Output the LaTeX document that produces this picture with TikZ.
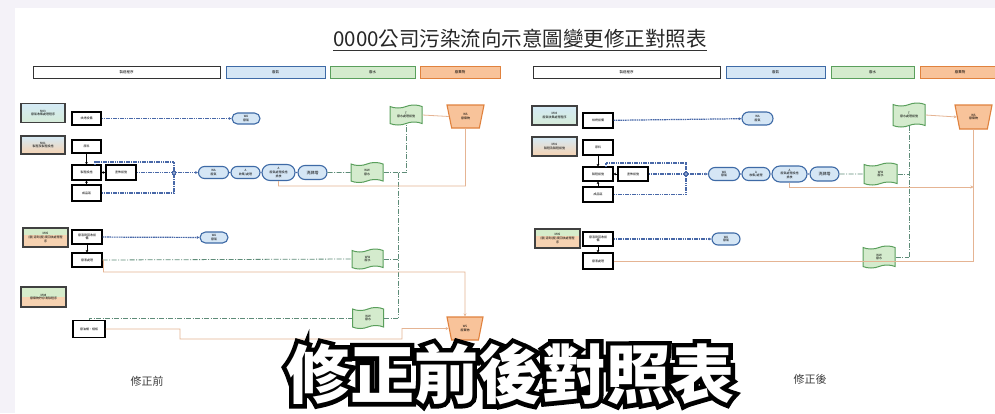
\documentclass[tikz,border=0pt]{standalone}
\usepackage{fontspec}
\setmainfont{Noto Sans CJK TC}
\newfontfamily\ovK{Noto Sans CJK TC}[BoldFeatures={FakeBold=14}]
\usetikzlibrary{shapes.misc,shapes.symbols,shapes.geometric,arrows.meta,calc}
\definecolor{gasC}{HTML}{4868A8}
\definecolor{pillF}{HTML}{D5E6F5}
\definecolor{pillD}{HTML}{3E6AA6}
\definecolor{wvF}{HTML}{D4EBCD}
\definecolor{wvD}{HTML}{5A9F5C}
\definecolor{wsF}{HTML}{F8C39A}
\definecolor{wsD}{HTML}{E0823E}
\definecolor{wasC}{HTML}{E5B493}
\definecolor{watC}{HTML}{5E8C78}
\definecolor{mG}{HTML}{D6ECCB}
\definecolor{mO}{HTML}{F6D2B1}
\definecolor{mB}{HTML}{D4EAF6}
\definecolor{bgC}{HTML}{F4F2F8}
\begin{document}
\begin{tikzpicture}[x=1pt,y=-1pt,
  tx/.style={font=\fontsize{3}{3.6}\selectfont, align=center, inner sep=0pt},
  procbox/.style={tx, draw=black, line width=1.1pt, fill=white, minimum width=30pt, minimum height=14pt},
  mbox/.style={tx, draw=black!75, line width=1.2pt, minimum width=45pt, minimum height=19pt},
  split/.style={path picture={
     \fill[mO] (path picture bounding box.south west) rectangle (path picture bounding box.north east);
     \fill[mG] (path picture bounding box.north west) rectangle ($(path picture bounding box.north east)!#1!(path picture bounding box.south east)$);}},
  mthree/.style={top color=mB, middle color=mG, bottom color=mO},
  mtwo/.style={top color=mB, bottom color=mG!70!mB},
  pill/.style={tx, rounded rectangle, draw=pillD, line width=1.1pt, fill=pillF, minimum height=12pt, minimum width=29pt},
  wave/.style={tx, tape, tape bend height=3pt, draw=wvD, line width=1pt, fill=wvF, minimum width=32pt, minimum height=20pt},
  wsbox/.style={tx, trapezium, shape border rotate=180, trapezium angle=76, trapezium stretches=true, draw=wsD, line width=1.1pt, fill=wsF, minimum width=37pt, minimum height=23pt},
  junc/.style={draw=gasC, fill=gasC!60, minimum size=3pt, inner sep=0pt},
  gas/.style={draw=gasC, line width=1.2pt, dash pattern=on 1.6pt off 0.7pt},
  gasar/.style={gas, -{Latex[length=2.5pt,width=3pt]}},
  water/.style={draw=watC, line width=0.8pt, dash pattern=on 5pt off 1.5pt on 1pt off 1.5pt},
  waste/.style={draw=wasC, line width=0.8pt},
  wastear/.style={waste, -{Stealth[length=3pt,width=3pt]}},
  flow/.style={draw=black, line width=0.9pt, -{Stealth[length=2.5pt,width=2.8pt]}},
  lg/.style={tx, font=\fontsize{3.5}{4}\selectfont, minimum height=12pt, line width=1pt}
]
\useasboundingbox (0,0) rectangle (995,413);
\fill[bgC] (0,0) rectangle (995,413);
\fill[white] (15,8) rectangle (995,413);

% title
\node[font=\fontsize{20.5}{24}\selectfont, inner sep=0pt, text=black!85] (title) at (520,39) {0000公司污染流向示意圖變更修正對照表};
\draw[line width=0.9pt, black!80] ([yshift=-2pt]title.south west) -- ([yshift=-2pt]title.south east);

% legends
\node[lg, draw=black!80, fill=white, minimum width=187pt] (lw1) at (126.5,72) {製造程序};
\node[lg, draw=pillD, fill=pillF, minimum width=99pt] (lb1) at (275.5,72) {廢氣};
\node[lg, draw=wvD, fill=wvF, minimum width=85pt] (lgn1) at (372.5,72) {廢水};
\node[lg, draw=wsD, fill=wsF, minimum width=80pt] (lo1) at (460,72) {廢棄物};
\node[lg, draw=black!80, fill=white, minimum width=187pt] (lw2) at (626.5,72) {製造程序};
\node[lg, draw=pillD, fill=pillF, minimum width=99pt] (lb2) at (775.5,72) {廢氣};
\node[lg, draw=wvD, fill=wvF, minimum width=83pt] (lgn2) at (872.5,72) {廢水};
\node[lg, draw=wsD, fill=wsF, minimum width=80pt] (lo2) at (960,72) {廢棄物};

% ================= LEFT (before) =================
\node[mbox, mtwo, minimum width=44pt] (m03) at (43,113) {M03\\廢氣收集處理程序};
\node[procbox, minimum width=29pt, minimum height=13pt] (heat) at (86.5,118.5) {烘烤設備};
\node[mbox, mthree, minimum width=44pt, minimum height=18pt] (m01) at (43,145) {M01\\製程及製程設施};
\node[procbox, minimum width=29pt, minimum height=13pt] (raw) at (86.5,146.5) {原料};
\node[procbox, minimum width=29pt, minimum height=15pt] (proc) at (86.5,172.5) {製程設施};
\node[procbox, minimum height=15pt] (proc2) at (121,172.5) {塗佈設施};
\node[procbox, minimum width=29pt, minimum height=16pt] (prod) at (86.5,193) {成品區};
\node[junc] (J) at (174,172.5) {};
\coordinate (c1) at (95,162);

\node[pill, minimum width=28pt, minimum height=11pt] (wa1) at (246,118.5) {WA\\廢氣};
\node[pill, minimum width=30pt] (wa2) at (213.5,172.5) {WA\\廢氣};
\node[pill] (a1) at (245.5,172.5) {A\\收集/處理};
\node[pill, minimum width=33pt, minimum height=16pt] (a2) at (278.5,172.5) {A\\廢氣處理設施\\排放};
\node[pill, minimum height=14pt, font=\fontsize{4}{4.8}\selectfont] (scr) at (312.5,172.5) {洗滌塔};
\node[wave] (ww1) at (367,172.5) {WW\\廢水};
\node[wave] (t1) at (406,115) {T\\廢水處理設施};
\node[wsbox] (ws1) at (465.5,116.5) {WS\\廢棄物};

\node[mbox, split=0.35] (m05) at (45.5,237.5) {M05\\(廢)溶劑(廢)液回收處理程\\序};
\node[procbox] (g1) at (87,237) {廢溶劑回收設\\備};
\node[procbox] (g2) at (87,260) {廢液處理};
\node[pill, minimum width=28pt, minimum height=11pt] (wa3) at (214,237.5) {WA\\廢氣};
\node[wave, minimum width=31pt] (ww2) at (367.5,259) {WW\\廢水};

\node[mbox, split=0.5, minimum height=20pt] (m08) at (43.5,297) {M08\\廢棄物貯存清除程序};
\node[procbox, minimum width=32pt, minimum height=17pt] (lbx) at (89,329) {廢油桶、棧板};
\node[wave, minimum width=31pt, minimum height=21pt] (ww3) at (368,318) {WW\\廢水};
\node[wsbox, minimum width=36pt] (ws2) at (465,328.5) {WS\\廢棄物};

% process arrows
\draw[flow] (raw) -- (proc);
\draw[flow] (prod) -- (proc);
\draw[flow] (proc2) -- (proc);
\draw[flow] (g1) -- (g2);
% gas
\draw[gasar] (heat) -- (wa1);
\draw[gas] (proc2) -- (J);
\draw[gasar] (J) -- (wa2);
\draw[gas] (prod.east) -| (J.south);
\draw[gas] (J.north) |- (c1) -- (c1 |- proc.north);
\draw[gas] (wa2) -- (a1);
\draw[gas] (a1) -- (a2);
\draw[gas] (a2) -- (scr);
\draw[gasar] (g1) -- (wa3);
% water
\coordinate (v1) at (406,172.5);
\coordinate (v2) at (398,172.5);
\coordinate (v2b) at (398,318);
\draw[water] (scr) -- (ww1);
\draw[water] (ww1.east) -- (v1) -- (t1.south);
\draw[water] (v2) -- (v2b);
\draw[water] (g2.east) -- (ww2.west);
\draw[water] (ww2.east) -- (ww2.east -| v2);
\draw[water] (lbx.north) |- (ww3.west);
\draw[water] (ww3.east) -- (v2b);
% waste
\coordinate (o1) at (465.5,186);
\coordinate (o2) at (465,272);
\draw[waste] (t1.east) -- (ws1.west);
\draw[waste] (a2.south) |- (o1) -- (ws1.south);
\draw[wastear] (g2.east) -- ++(1,0) |- (o2) -- (ws2.north);
\draw[wastear] (lbx.east) -- (180,329) -- (180,339) -- (402,339) -- (402,328.5) -- (ws2.west);

% ================= RIGHT (after) =================
\node[mbox, mtwo] (m03r) at (554.5,115.5) {M03\\廢氣收集處理程序};
\node[procbox, minimum height=15pt] (heatr) at (598,120.5) {烘烤設備};
\node[mbox, mthree] (m01r) at (554.5,146.5) {M01\\製程及製程設施};
\node[procbox, minimum height=15pt] (rawr) at (598,147.5) {原料};
\node[procbox] (procr) at (598,174) {製程設施};
\node[procbox] (proc2r) at (633,174) {塗佈設施};
\node[procbox, minimum height=15pt] (prodr) at (598,194.5) {成品區};
\node[junc] (Jr) at (686,174) {};
\coordinate (c1r) at (606,163);

\node[pill, minimum width=31pt, minimum height=13pt] (wa1r) at (757.5,118.5) {WA\\廢氣};
\node[pill, minimum width=31pt, minimum height=13pt] (wa2r) at (724,174) {WA\\廢氣};
\node[pill, minimum width=28pt, minimum height=13pt] (a1r) at (756,174) {A\\收集/處理};
\node[pill, minimum width=35pt, minimum height=16pt] (a2r) at (789.5,174) {A\\廢氣處理設施\\排放};
\node[pill, minimum height=14pt, font=\fontsize{4}{4.8}\selectfont] (scrr) at (824.5,174) {洗滌塔};
\node[wave, minimum width=33pt, minimum height=22pt] (ww1r) at (880.5,174) {WW\\廢水};
\node[wave, minimum height=24pt] (t1r) at (909,115) {T\\廢水處理設施};
\node[wsbox, minimum height=24pt] (wsr) at (973.5,117) {WS\\廢棄物};

\node[mbox, split=0.35] (m05r) at (557.5,238.5) {M05\\(廢)溶劑(廢)液回收處理程\\序};
\node[procbox] (g1r) at (598,239) {廢溶劑回收設\\備};
\node[procbox, minimum height=16pt] (g2r) at (598,261) {廢液處理};
\node[pill, minimum width=28pt, minimum height=12pt] (wa3r) at (726,239) {WA\\廢氣};
\node[wave, minimum height=22pt] (ww2r) at (879,257) {WW\\廢水};

\draw[flow] (rawr) -- (procr);
\draw[flow] (prodr) -- (procr);
\draw[flow] (proc2r) -- (procr);
\draw[flow] (g1r) -- (g2r);
\draw[gasar] (heatr) -- (wa1r);
\draw[gas] (proc2r) -- (Jr);
\draw[gasar] (Jr) -- (wa2r);
\draw[gas] (prodr.east) -| (Jr.south);
\draw[gas] (Jr.north) |- (c1r) -- (c1r |- procr.north);
\draw[gas] (wa2r) -- (a1r);
\draw[gas] (a1r) -- (a2r);
\draw[gas] (a2r) -- (scrr);
\draw[gasar] (g1r) -- (wa3r);
\coordinate (v1r) at (909,174);
\coordinate (v3r) at (909,257);
\draw[water] (scrr) -- (ww1r);
\draw[water] (ww1r.east) -- (v1r);
\draw[water] (t1r.south) -- (v3r);
\draw[water] (ww2r.east) -- (v3r);
\coordinate (o1r) at (973.5,187);
\coordinate (o3r) at (973.5,261);
\draw[wastear] (t1r.east) -- (wsr.west);
\draw[wastear] (a2r.south) |- (o1r);
\draw[waste] (wsr.south) -- (o3r);
\draw[waste] (g2r.east) -- (o3r);

% bottom labels
\node[font=\fontsize{11}{13}\selectfont, text=black!75] (lblA) at (147,381) {修正前};
\node[font=\fontsize{11}{13}\selectfont, text=black!75] (lblB) at (810,379) {修正後};

% overlay caption: black emboldened outline under white text
\coordinate (ov) at (510,374);
\node[font=\ovK\bfseries\fontsize{64}{70}\selectfont, text=black, inner sep=0pt] (ovb) at (ov) {修正前後對照表};
\node[font=\bfseries\fontsize{64}{70}\selectfont, text=white, inner sep=0pt] (ovw) at (ov) {修正前後對照表};
\end{tikzpicture}
\end{document}
